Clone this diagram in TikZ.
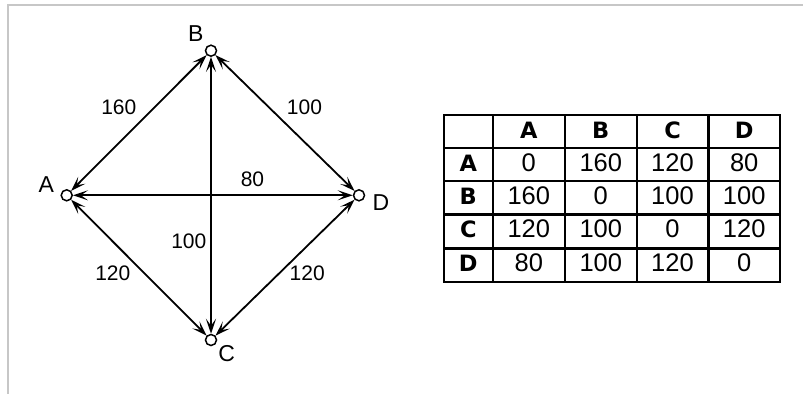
\documentclass[tikz,border=0pt]{standalone}
\usepackage{fontspec}
\setmainfont{Liberation Sans}
\newfontfamily\hdfont{DejaVu Sans}
\usetikzlibrary{arrows.meta}
\begin{document}
\begin{tikzpicture}[x=1pt,y=-1pt,
  frame/.style={draw=black!22, line width=2pt},
  vtx/.style={circle, draw, line width=1.5pt, fill=white, minimum size=11pt, inner sep=0pt},
  edge/.style={line width=1.8pt, {Stealth[length=15pt, width=10pt, inset=7pt]}-{Stealth[length=15pt, width=10pt, inset=7pt]}},
  vlbl/.style={inner sep=0pt, text height=0.716em, text depth=0pt, font=\fontsize{23}{27}\selectfont},
  elbl/.style={inner sep=0pt, text height=0.716em, text depth=0pt, font=\fontsize{21}{25}\selectfont},
  grid/.style={line width=2.4pt},
  cell/.style={inner sep=0pt, text height=0.716em, text depth=0pt, font=\fontsize{25.5}{29}\selectfont},
  hcell/.style={inner sep=0pt, text height=0.729em, text depth=0pt, font=\hdfont\bfseries\fontsize{22.5}{26}\selectfont}
]
\useasboundingbox (0,0) rectangle (803,394);
\fill[white] (0,0) rectangle (803,394);
\draw[frame] (803,4.5) -- (7.5,4.5) -- (7.5,394);

% vertices
\node[vtx] (A) at (66.7,195.3) {};
\node[vtx] (B) at (211,50.7) {};
\node[vtx] (C) at (211,340) {};
\node[vtx] (D) at (359,195.3) {};

% edges
\draw[edge] (A) -- (B);
\draw[edge] (B) -- (D);
\draw[edge] (A) -- (D);
\draw[edge] (B) -- (C);
\draw[edge] (A) -- (C);
\draw[edge] (C) -- (D);

% vertex labels
\node[vlbl] (lA) at (46.2,189.2) {A};
\node[vlbl] (lB) at (195.8,37.5) {B};
\node[vlbl] (lC) at (226.7,358.3) {C};
\node[vlbl] (lD) at (381,207.2) {D};

% edge labels
\node[elbl] (wAB) at (118.8,111.2) {160};
\node[elbl] (wBD) at (304.5,111.2) {100};
\node[elbl] (wAD) at (252.5,183) {80};
\node[elbl] (wBC) at (188.8,244.8) {100};
\node[elbl] (wAC) at (112.8,276.5) {120};
\node[elbl] (wCD) at (307.2,276.5) {120};

% table grid
\draw[grid] (444,115) rectangle (780,281.7);
\foreach \x in {492.7,565,636.7,708.3} \draw[grid] (\x,115) -- (\x,281.7);
\foreach \y in {147.7,181,214.3,248.3} \draw[grid] (444,\y) -- (780,\y);

% header row
\node[hcell] (hA) at (528.8,134.5) {A};
\node[hcell] (hB) at (600.8,134.5) {B};
\node[hcell] (hC) at (672.5,134.5) {C};
\node[hcell] (hD) at (744.2,134.5) {D};
% row headers
\node[hcell] (rA) at (468.3,167.5) {A};
\node[hcell] (rB) at (468.3,200.8) {B};
\node[hcell] (rC) at (468.3,234.3) {C};
\node[hcell] (rD) at (468.3,268) {D};
% values
\node[cell] (aa) at (528.8,167.5) {0};
\node[cell] (ab) at (600.8,167.5) {160};
\node[cell] (ac) at (672.5,167.5) {120};
\node[cell] (ad) at (744.2,167.5) {80};
\node[cell] (ba) at (528.8,200.8) {160};
\node[cell] (bb) at (600.8,200.8) {0};
\node[cell] (bc) at (672.5,200.8) {100};
\node[cell] (bd) at (744.2,200.8) {100};
\node[cell] (ca) at (528.8,234.3) {120};
\node[cell] (cb) at (600.8,234.3) {100};
\node[cell] (cc) at (672.5,234.3) {0};
\node[cell] (cd) at (744.2,234.3) {120};
\node[cell] (da) at (528.8,268) {80};
\node[cell] (db) at (600.8,268) {100};
\node[cell] (dc) at (672.5,268) {120};
\node[cell] (dd) at (744.2,268) {0};
\end{tikzpicture}
\end{document}
